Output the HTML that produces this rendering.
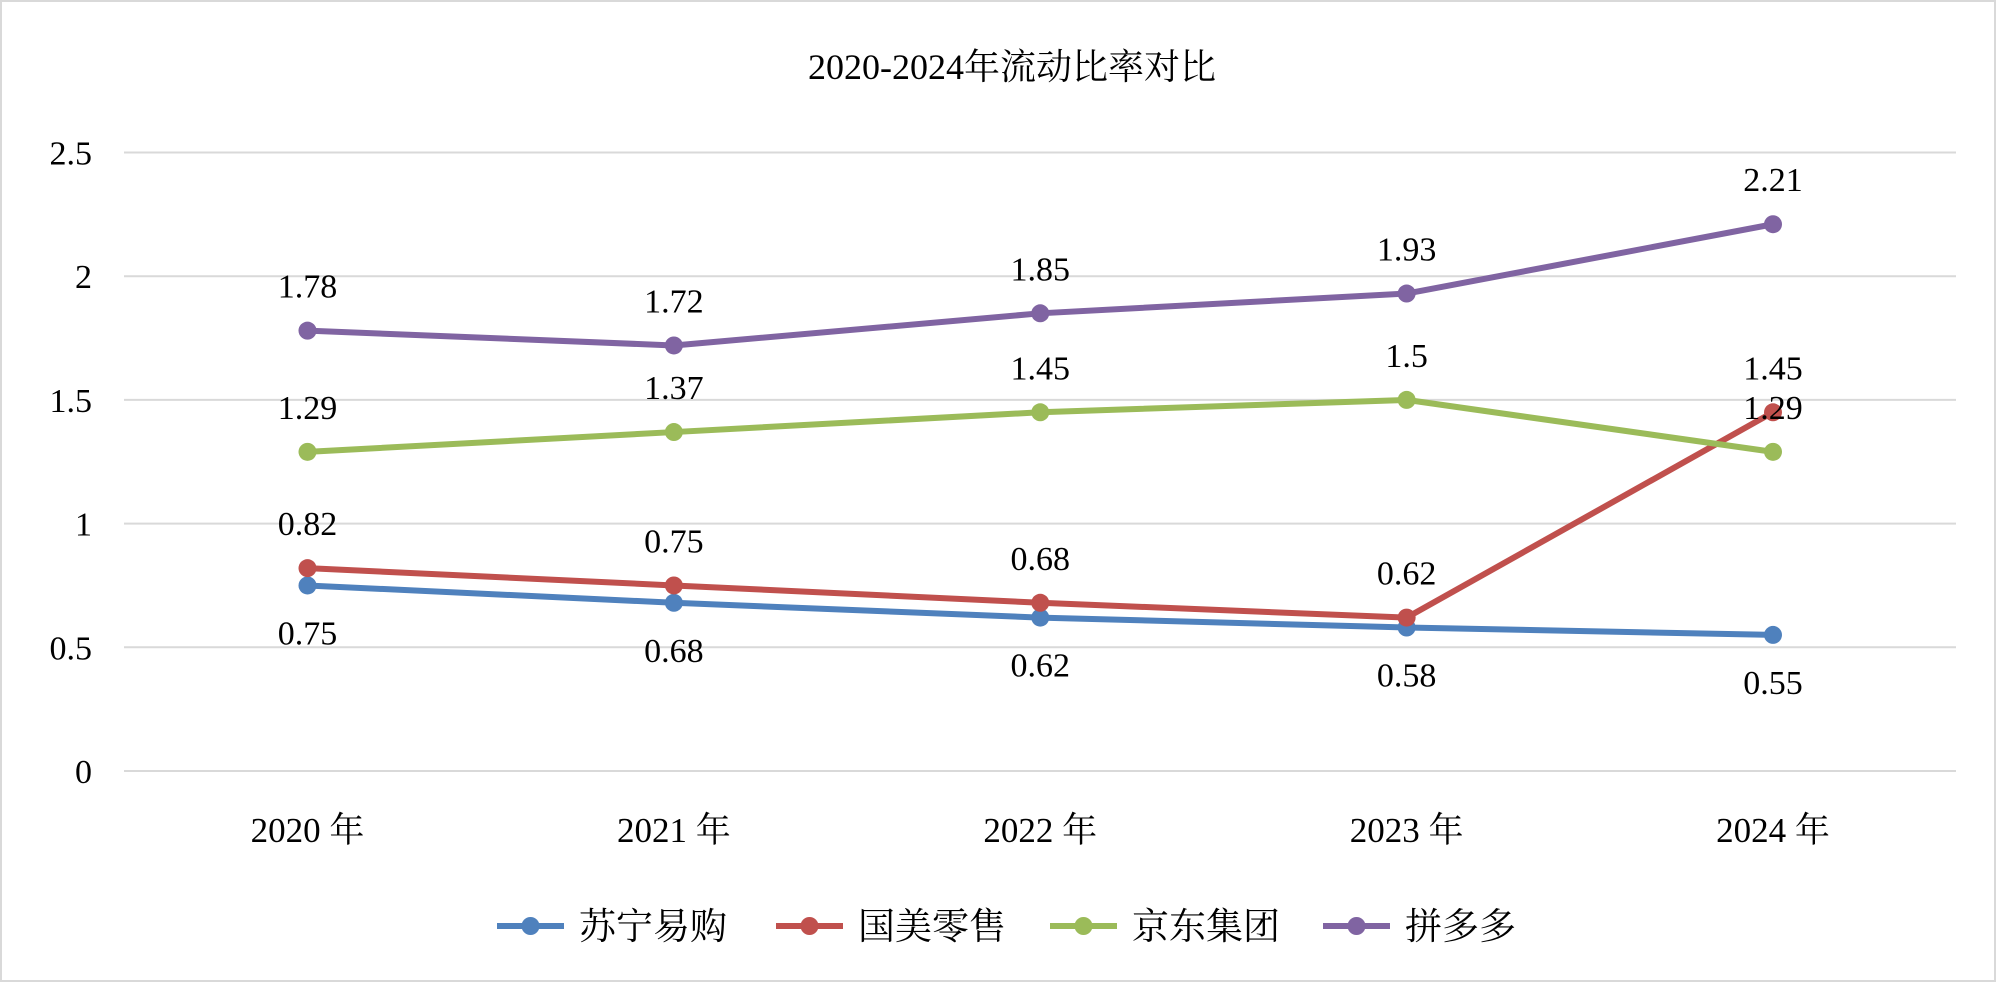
<!DOCTYPE html>
<html><head><meta charset="utf-8"><style>
html,body{margin:0;padding:0;background:#fff;}
svg{display:block;font-family:"Liberation Serif","Noto Serif CJK SC",serif;}
</style></head><body>
<svg id="chart" width="2000" height="984" viewBox="0 0 2000 984" xmlns="http://www.w3.org/2000/svg">
<rect x="1" y="1" width="1994" height="980" fill="#fff" stroke="#d9d9d9" stroke-width="2"/>
<text x="1012" y="79" font-size="36" text-anchor="middle" fill="#000">2020-2024年流动比率对比</text>
<g id="grid"></g><g id="series"></g><g id="legend"></g>
</svg>
<script>
const categories=["2020 年","2021 年","2022 年","2023 年","2024 年"];
const yTicks=[0,0.5,1,1.5,2,2.5];
const yTickLabels=["0","0.5","1","1.5","2","2.5"];
const seriesNames=["苏宁易购","国美零售","京东集团","拼多多"];
const suning=[0.75,0.68,0.62,0.58,0.55];
const gome=[0.82,0.75,0.68,0.62,1.45];
const jd=[1.29,1.37,1.45,1.5,1.29];
const pdd=[1.78,1.72,1.85,1.93,2.21];
const colors=["#4f81bd","#c0504d","#9bbb59","#8064a2"];
const NS="http://www.w3.org/2000/svg";
const left=124,right=1956,y0=771,yTop=152.5,yMax=2.5;
const cx0=307.5,cx1=1773;
const xS=i=>cx0+(cx1-cx0)*i/(categories.length-1);
const yS=v=>y0-(v/yMax)*(y0-yTop);
function mk(t,a,p){const e=document.createElementNS(NS,t);for(const k in a)e.setAttribute(k,a[k]);p.appendChild(e);return e;}
const grid=document.getElementById('grid');
yTicks.forEach((v,i)=>{
  const l=mk('line',{x1:left,x2:right,y1:yS(v),y2:yS(v),stroke:'#d9d9d9','stroke-width':2},grid);
  
  
  const t=mk('text',{x:92,y:yS(v)+12,'font-size':34,'text-anchor':'end',fill:'#000'},grid);
  t.textContent=yTickLabels[i];
  
  
});
categories.forEach((c,i)=>{
  const t=mk('text',{x:xS(i),y:842,'font-size':35,'text-anchor':'middle',fill:'#000'},grid);
  t.textContent=c;
  
  
});
const all=[suning,gome,jd,pdd];
const sg=document.getElementById('series');
all.forEach((d,s)=>{
  const g=mk('g',{},sg);
  
  
  const p=mk('polyline',{points:d.map((v,i)=>xS(i)+','+yS(v)).join(' '),fill:'none',stroke:colors[s],'stroke-width':6,'stroke-linejoin':'round'},g);
  
  
  d.forEach((v,i)=>{
    const c=mk('circle',{cx:xS(i),cy:yS(v),r:9,fill:colors[s]},g);
    
    
    const below=s===0;
    const t=mk('text',{x:xS(i),y:yS(v)+(below?59:-33),'font-size':34,'text-anchor':'middle',fill:'#000'},g);
    t.textContent=String(v);
    
    
  });
});
const lg=document.getElementById('legend');
const lx=[497,776,1050,1323];
seriesNames.forEach((n,s)=>{
  const g=mk('g',{},lg);
  
  
  mk('line',{x1:lx[s],x2:lx[s]+67,y1:926,y2:926,stroke:colors[s],'stroke-width':6},g);
  mk('circle',{cx:lx[s]+33.5,cy:926,r:9,fill:colors[s]},g);
  const t=mk('text',{x:lx[s]+82,y:939,'font-size':37,fill:'#000'},g);
  t.textContent=n;
});
</script>
</body></html>
